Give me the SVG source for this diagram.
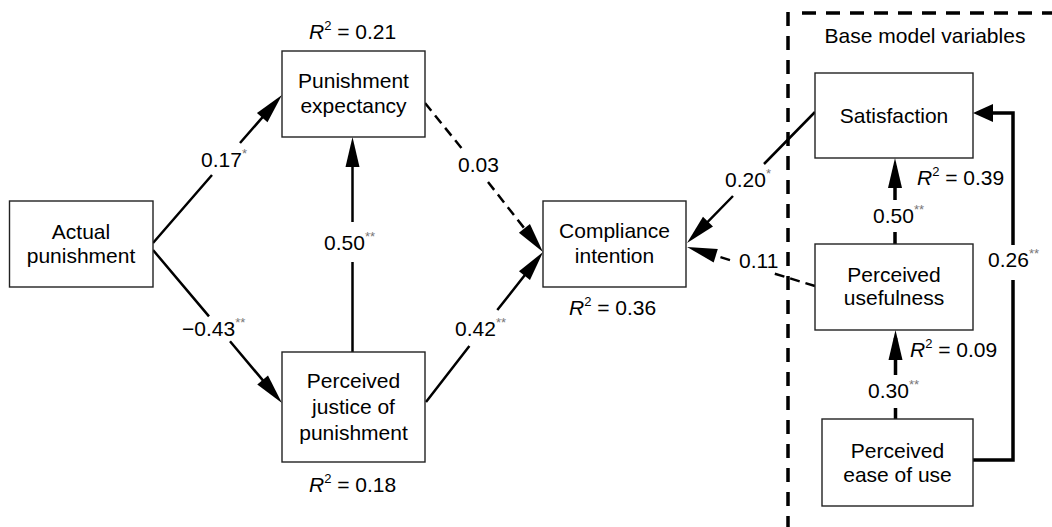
<svg xmlns="http://www.w3.org/2000/svg" width="1052" height="527" viewBox="0 0 1052 527">
<style>
text{font-family:"Liberation Sans",Arial,sans-serif;font-size:21px;fill:#000}
.ct{text-anchor:middle}
.box{fill:#fff;stroke:#222;stroke-width:1.4}
.ln{fill:none;stroke:#000;stroke-width:2.5}
.thk{fill:none;stroke:#000;stroke-width:3.5;stroke-linejoin:miter}
.dsh{fill:none;stroke:#000;stroke-width:2.5;stroke-dasharray:10 6}
.st{font-size:13px;fill:#777}
.sup{font-size:13px}
.it{font-style:italic}
</style>
<defs>
<marker id="ah" markerUnits="userSpaceOnUse" markerWidth="32" markerHeight="16" refX="22" refY="7" orient="auto" overflow="visible"><path d="M0,0 L30,7 L0,14 z" fill="#000"/></marker>
<marker id="ah2" markerUnits="userSpaceOnUse" markerWidth="22" markerHeight="20" refX="14" refY="9" orient="auto" overflow="visible"><path d="M0,0 L20,9 L0,18 z" fill="#000"/></marker>
</defs>

<g id="base-model">
<line x1="788" y1="12" x2="788" y2="530" stroke="#000" stroke-width="3.5" stroke-dasharray="14 10"/>
<line x1="802" y1="13" x2="1060" y2="13" stroke="#000" stroke-width="3.5" stroke-dasharray="14 10"/>
<text x="925" y="43" class="ct">Base model variables</text>
</g>

<g id="connectors">
<path class="ln" d="M153,243 L212,175 M240,143 L276.7,101" marker-end="url(#ah)"/>
<text x="201" y="167">0.17<tspan class="st" dy="-9">*</tspan></text>
<path class="ln" d="M153,250 L209,316.4 M230,341.3 L276.8,396.9" marker-end="url(#ah)"/>
<text x="182" y="336">−0.43<tspan class="st" dy="-9">**</tspan></text>
<path class="ln" d="M352.5,352 L352.5,262 M352.5,222 L352.5,145" marker-end="url(#ah)"/>
<text x="324" y="250">0.50<tspan class="st" dy="-9">**</tspan></text>
<path class="ln" d="M426,402 L469.4,346 M497.3,310 L538.1,258.3" marker-end="url(#ah)"/>
<text x="455" y="336">0.42<tspan class="st" dy="-9">**</tspan></text>
<path class="dsh" d="M425,103 L461.4,148 M488,182 L538,245.7" marker-end="url(#ah)"/>
<text x="458" y="172">0.03</text>
<path class="ln" d="M815,112 L764,164 M733,196 L692.6,237.3" marker-end="url(#ah)"/>
<text x="725" y="187">0.20<tspan class="st" dy="-9">*</tspan></text>
<path class="dsh" d="M815,286 L771,272.6 M730,260.1 L694.7,249.3" marker-end="url(#ah)"/>
<text x="739" y="268">0.11</text>
<path class="thk" d="M895,244 L895,232 M895,200 L895,166" marker-end="url(#ah)"/>
<text x="873" y="223">0.50<tspan class="st" dy="-9">**</tspan></text>
<path class="thk" d="M895.5,419 L895.5,408 M895.5,375 L895.5,338" marker-end="url(#ah)"/>
<text x="868" y="398">0.30<tspan class="st" dy="-9">**</tspan></text>
<path class="thk" d="M973,460 L1013,460 L1013,280 M1013,245 L1013,113 L979,113" marker-end="url(#ah2)"/>
<text x="988" y="267">0.26<tspan class="st" dy="-9">**</tspan></text>
</g>

<g id="actual-punishment">
<rect class="box" x="9.5" y="201" width="143.5" height="86"/>
<text x="81" y="239" class="ct">Actual</text>
<text x="81" y="263" class="ct">punishment</text>
</g>

<g id="punishment-expectancy">
<rect class="box" x="282" y="51" width="143" height="86"/>
<text x="353.5" y="88" class="ct">Punishment</text>
<text x="353.5" y="113" class="ct">expectancy</text>
<text x="309" y="39"><tspan class="it">R</tspan><tspan class="sup" dy="-9">2</tspan><tspan dy="9"> = 0.21</tspan></text>
</g>

<g id="perceived-justice">
<rect class="box" x="282" y="352" width="143" height="110"/>
<text x="353.5" y="388" class="ct">Perceived</text>
<text x="353.5" y="414" class="ct">justice of</text>
<text x="353.5" y="440" class="ct">punishment</text>
<text x="309" y="492"><tspan class="it">R</tspan><tspan class="sup" dy="-9">2</tspan><tspan dy="9"> = 0.18</tspan></text>
</g>

<g id="compliance-intention">
<rect class="box" x="543" y="201" width="143" height="86"/>
<text x="614.5" y="238" class="ct">Compliance</text>
<text x="614.5" y="263" class="ct">intention</text>
<text x="569" y="315"><tspan class="it">R</tspan><tspan class="sup" dy="-9">2</tspan><tspan dy="9"> = 0.36</tspan></text>
</g>

<g id="satisfaction">
<rect class="box" x="815" y="73" width="158" height="85"/>
<text x="894" y="123" class="ct">Satisfaction</text>
<text x="917" y="185"><tspan class="it">R</tspan><tspan class="sup" dy="-9">2</tspan><tspan dy="9"> = 0.39</tspan></text>
</g>

<g id="perceived-usefulness">
<rect class="box" x="815" y="244" width="158" height="86"/>
<text x="894" y="282" class="ct">Perceived</text>
<text x="894" y="305" class="ct">usefulness</text>
<text x="910" y="357"><tspan class="it">R</tspan><tspan class="sup" dy="-9">2</tspan><tspan dy="9"> = 0.09</tspan></text>
</g>

<g id="perceived-ease-of-use">
<rect class="box" x="822" y="419" width="151" height="87"/>
<text x="897.5" y="458" class="ct">Perceived</text>
<text x="897.5" y="482" class="ct">ease of use</text>
</g>
</svg>
